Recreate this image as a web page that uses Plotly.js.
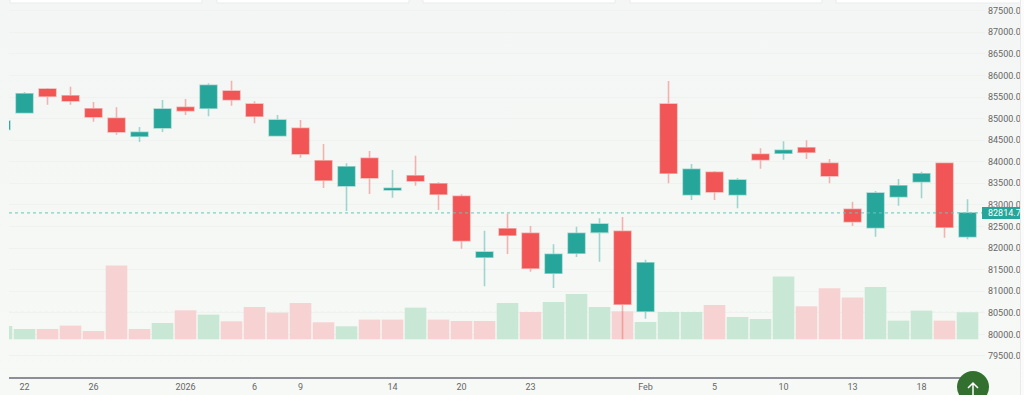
<!DOCTYPE html>
<html>
<head>
<meta charset="utf-8">
<script src="https://cdn.plot.ly/plotly-3.0.1.min.js"></script>
<style>
html,body{margin:0;padding:0;width:1024px;height:395px;overflow:hidden;background:linear-gradient(180deg,#f3f6f4 0%,#f7f9f6 100%)}
#chart{position:absolute;left:0;top:0;width:1024px;height:395px}
#strip{position:absolute;left:1020px;top:0;width:4px;height:395px;background:#fbfbfb;border-left:1px solid #eaeaea;box-sizing:border-box}
</style>
</head>
<body>
<div id="chart"></div>
<div id="strip"></div>
<script>
const slots = [-1,0,1,2,3,4,5,6,7,8,9,10,11,12,13,14,15,16,17,18,19,20,21,22,23,24,25,26,27,28,29,30,31,32,33,34,35,36,37,38,39,40,41];
const up = "GGRRRRGGRGRRGRRGRGRRRGRRGGGRGRGRGRGRRRGGGRG";
const bodyTop = [84944,85577,85686,85531,85229,85007,84683,85222,85262,85772,85639,85338,84967,84775,84024,83885,84080,83385,83677,83492,83200,81909,82449,82342,81856,82342,82558,82389,81661,85338,83825,83756,83577,84173,84265,84326,83964,82898,83276,83445,83723,83964,82814.71];
const bodyBot = [84747,85137,85517,85408,85037,84689,84590,84782,85183,85239,85438,85053,84604,84180,83570,83438,83624,83346,83554,83246,82171,81786,82296,81531,81416,81879,82365,80697,80535,83733,83237,83299,83237,84048,84196,84219,83670,82611,82472,83190,83538,82481,82264];
const high = [84960,85616,85709,85739,85385,85262,84805,85431,85454,85818,85878,85401,85083,84967,84411,83964,84249,83809,84140,83524,83246,82403,82796,82511,82087,82495,82690,82720,81731,85871,83948,83786,83624,84312,84474,84497,84064,83075,83322,83600,83770,83978,83130];
const low = [84730,85130,85322,85322,84928,84627,84458,84689,85083,85053,85299,84891,84590,84094,83392,82859,83253,83167,83445,82882,81986,81114,81863,81453,81075,81793,81684,79886,80364,83501,83114,83114,82922,83839,84048,84064,83501,82511,82264,82982,83153,82240,82203];
const volume = [13.3,10.3,10.3,13.7,8.3,73.7,10.3,16.3,29,24.7,18,32.3,26.7,36.3,17,13,19.7,19.7,31.7,19.7,18.3,18.3,36.3,27.3,37.3,45.3,32.3,28,17.3,27.3,27.3,34.3,22.3,20.3,62.7,33,51,41.7,52.3,18.7,28.7,18.7,27];
const volSide = "GGRRRRRGRGRRRRRGRRGRRRGRGGGRGGGRGGGRRRGGGRG";
const tickSlots = [0,3,7,10,12,16,19,22,27,30,33,36,39];
const tickText = ["22","26","2026","6","9","14","20","23","Feb","5","10","13","18"];
const lastPrice = 82814.71;
const lastVolume = 27;
const W = 1024, H = 395;
const px = v => v / W, py = v => 1 - v / H;

const open = up.split("").map((c,i) => c === "G" ? bodyBot[i] : bodyTop[i]);
const close = up.split("").map((c,i) => c === "G" ? bodyTop[i] : bodyBot[i]);
const sideColor = volSide.split("").map(c => c === "G" ? "#c9e7d5" : "#f6d3d2");

const traces = [
  {type:"bar", x:slots, y:volume, yaxis:"y", xaxis:"x", width:0.94,
   marker:{color:sideColor, line:{width:0}}, hoverinfo:"skip", showlegend:false},
  {type:"candlestick", x:slots, open:open, high:high, low:low, close:close, yaxis:"y2", xaxis:"x",
   whiskerwidth:0, showlegend:false, hoverinfo:"skip",
   increasing:{fillcolor:"#26a69a", line:{color:"rgba(38,166,154,0.42)", width:1.6}},
   decreasing:{fillcolor:"#f25555", line:{color:"rgba(239,83,80,0.42)", width:1.6}}}
];

const cards = [[10,202],[217,409],[423,615],[630,822],[836,1026]].map(c => ({
  type:"rect", xref:"paper", yref:"paper", x0:px(c[0]), x1:px(c[1]), y0:py(3), y1:py(-4),
  fillcolor:"#ffffff", line:{color:"#e9ecea", width:1}, layer:"above"}));

const layout = {
  width:W, height:H, margin:{l:0,r:0,t:0,b:0},
  paper_bgcolor:"rgba(0,0,0,0)", plot_bgcolor:"rgba(0,0,0,0)", showlegend:false, boxgap:0.27, boxgroupgap:0,
  font:{family:"Roboto, sans-serif", size:9, color:"#666"},
  xaxis:{domain:[px(9),px(985)], range:[-0.674,41.76], tickmode:"array", tickvals:tickSlots, ticktext:tickText,
         showgrid:false, zeroline:false, showline:true, linecolor:"#8e8e9a", linewidth:2, ticks:"",
         tickfont:{size:9,color:"#666"}, fixedrange:true, rangeslider:{visible:false}},
  yaxis:{domain:[1-377/H,1], range:[-37.7,339.3], visible:false, fixedrange:true},
  yaxis2:{domain:[1-377/H,1], overlaying:"y", side:"right", range:[79013,87748], dtick:500, tick0:79500,
          tickformat:".2f", showgrid:true, gridcolor:"#eff2ef", gridwidth:1, zeroline:false, showline:false, ticks:"",
          ticklabelstandoff:2, tickfont:{size:9,color:"#666"}, anchor:"x", fixedrange:true},
  shapes:[
    ...cards,
    {type:"line", xref:"paper", yref:"y2", x0:px(9), x1:px(985), y0:lastPrice, y1:lastPrice,
     line:{color:"#6cc4ba", width:1, dash:"dot"}, layer:"above"},
    {type:"line", xref:"paper", yref:"y", x0:px(9), x1:px(985), y0:lastVolume, y1:lastVolume,
     line:{color:"#d5e8dc", width:1, dash:"dot"}, layer:"below"},
    {type:"rect", xref:"paper", yref:"paper", x0:px(982), x1:px(1022), y0:py(219), y1:py(207),
     fillcolor:"#26a69a", line:{width:0}, layer:"above"},
    {type:"circle", xref:"paper", yref:"paper", x0:px(957), x1:px(989), y0:py(371), y1:py(403),
     fillcolor:"#33702f", line:{width:0}, layer:"above"},
    {type:"path", xref:"paper", yref:"paper",
     path:`M ${px(973)} ${py(396)} L ${px(973)} ${py(383)} M ${px(968)} ${py(388)} L ${px(973)} ${py(383)} L ${px(978)} ${py(388)}`,
     line:{color:"#ffffff", width:1.5}, layer:"above"}
  ],
  annotations:[
    {xref:"paper", yref:"y2", x:px(985.5), y:lastPrice, xanchor:"left", yanchor:"middle", showarrow:false,
     text:"82814.71", font:{size:9,color:"#ffffff"}, align:"left"}
  ]
};
Plotly.newPlot("chart", traces, layout, {displayModeBar:false, staticPlot:true});
</script>
</body>
</html>
